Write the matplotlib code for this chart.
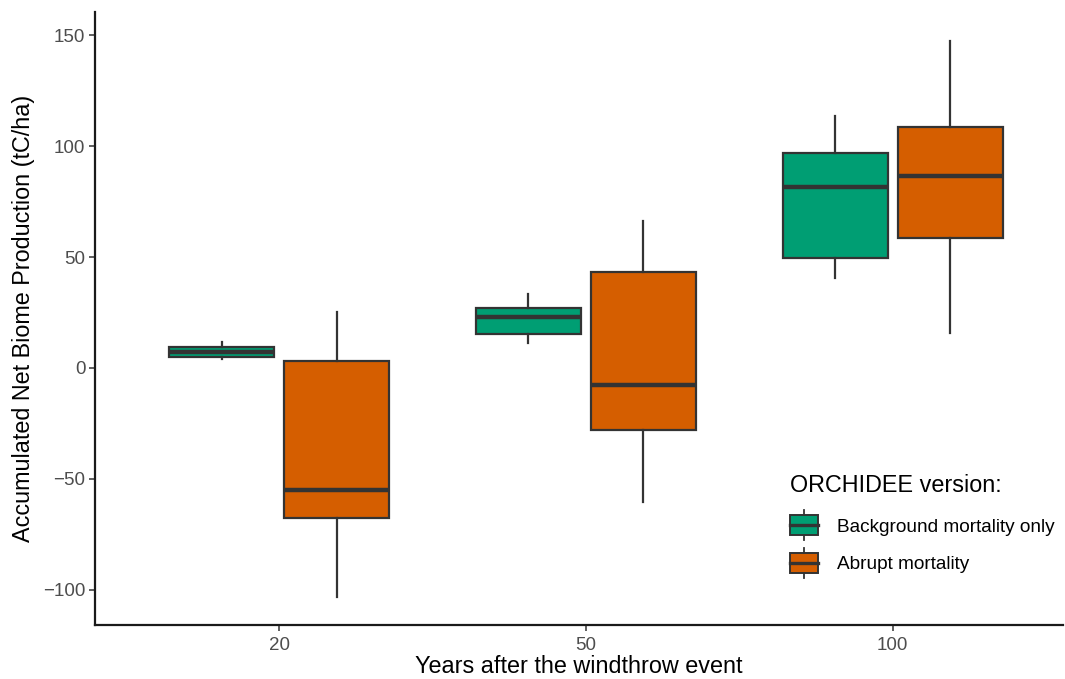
import matplotlib.pyplot as plt
from matplotlib.legend_handler import HandlerBase
from matplotlib.patches import Rectangle, Patch
from matplotlib.lines import Line2D

plt.rcParams['font.family'] = ['Liberation Sans', 'DejaVu Sans']

years = ["20", "50", "100"]
versions = ["Background mortality only", "Abrupt mortality"]
colors = ["#009E73", "#D55E00"]

# box stats, one list per version, in the order of years
bg_whislo = [3.9, 11.1, 40.7]
bg_q1 = [5.1, 15.3, 49.7]
bg_med = [7.3, 22.8, 81.7]
bg_q3 = [9.6, 26.9, 96.7]
bg_whishi = [11.8, 33.3, 113.6]

ab_whislo = [-103.0, -60.2, 15.9]
ab_q1 = [-67.7, -27.9, 58.7]
ab_med = [-55.0, -7.7, 86.6]
ab_q3 = [3.3, 43.1, 108.7]
ab_whishi = [25.4, 66.4, 147.4]

series = [
    (bg_whislo, bg_q1, bg_med, bg_q3, bg_whishi),
    (ab_whislo, ab_q1, ab_med, ab_q3, ab_whishi),
]

edge = "#333333"

fig = plt.figure(figsize=(10.65, 6.79), dpi=100)
ax = fig.add_axes([95 / 1065, 1 - 625 / 679, (1063 - 95) / 1065, (625 - 12) / 679])

for i, (lo, q1, med, q3, hi) in enumerate(series):
    stats = []
    for j in range(len(years)):
        stats.append({"whislo": lo[j], "q1": q1[j], "med": med[j],
                      "q3": q3[j], "whishi": hi[j], "fliers": []})
    pos = [j + 1 + (i - 0.5) * 0.375 for j in range(len(years))]
    ax.bxp(stats, positions=pos, widths=0.342, patch_artist=True,
           showcaps=False, showfliers=False,
           boxprops=dict(facecolor=colors[i], edgecolor=edge, linewidth=1.6),
           medianprops=dict(color=edge, linewidth=3.2, solid_capstyle="butt"),
           whiskerprops=dict(color=edge, linewidth=1.6))

ax.set_xlim(0.4, 3.555)
ax.set_ylim(-115.8, 160.4)
ax.set_xticks([1, 2, 3])
ax.set_xticklabels(years)
ax.set_yticks([-100, -50, 0, 50, 100, 150])
ax.set_yticklabels(["\u2212100", "\u221250", "0", "50", "100", "150"])

for s in ["top", "right"]:
    ax.spines[s].set_visible(False)
for s in ["left", "bottom"]:
    ax.spines[s].set_linewidth(1.6)
    ax.spines[s].set_color("#1a1a1a")
ax.tick_params(axis="both", length=4, width=1.1, color="#333333",
               labelcolor="#4D4D4D", labelsize=13.5, pad=3)
ax.tick_params(axis="x", pad=5)

ax.set_ylabel("Accumulated Net Biome Production (tC/ha)", fontsize=16.8,
              color="black", labelpad=6)
ax.set_xlabel("Years after the windthrow event", fontsize=16.8,
              color="black", labelpad=0.3)


class BoxKey(HandlerBase):
    # ggplot-like boxplot glyph for the legend keys (units are points)
    def create_artists(self, legend, orig_handle, xdescent, ydescent,
                       width, height, fontsize, trans):
        bh = 14.4
        y0 = height / 2 - bh / 2 - ydescent
        x0 = -xdescent
        rect = Rectangle((x0, y0), width, bh, facecolor=orig_handle.get_facecolor(),
                         edgecolor=edge, linewidth=1.4, transform=trans)
        mid = Line2D([x0, x0 + width], [y0 + bh / 2] * 2, color=edge,
                     linewidth=2.4, transform=trans)
        w1 = Line2D([x0 + width / 2] * 2, [y0 + bh, y0 + bh + 3.6], color=edge,
                    linewidth=1.3, transform=trans)
        w2 = Line2D([x0 + width / 2] * 2, [y0 - 3.6, y0], color=edge,
                    linewidth=1.3, transform=trans)
        return [rect, mid, w1, w2]


handles = [Patch(facecolor=c) for c in colors]
leg = ax.legend(handles, versions, handler_map={Patch: BoxKey()},
                title="ORCHIDEE version:", loc="upper left",
                bbox_to_anchor=(0.71, 0.258), frameon=False,
                fontsize=13.7, title_fontsize=16.8, handlelength=1.5,
                handleheight=1.0, labelspacing=0.95, handletextpad=0.95,
                borderaxespad=0)
leg._legend_box.align = "left"
leg._legend_box.sep = 14

fig.savefig("out.png", dpi=100)
